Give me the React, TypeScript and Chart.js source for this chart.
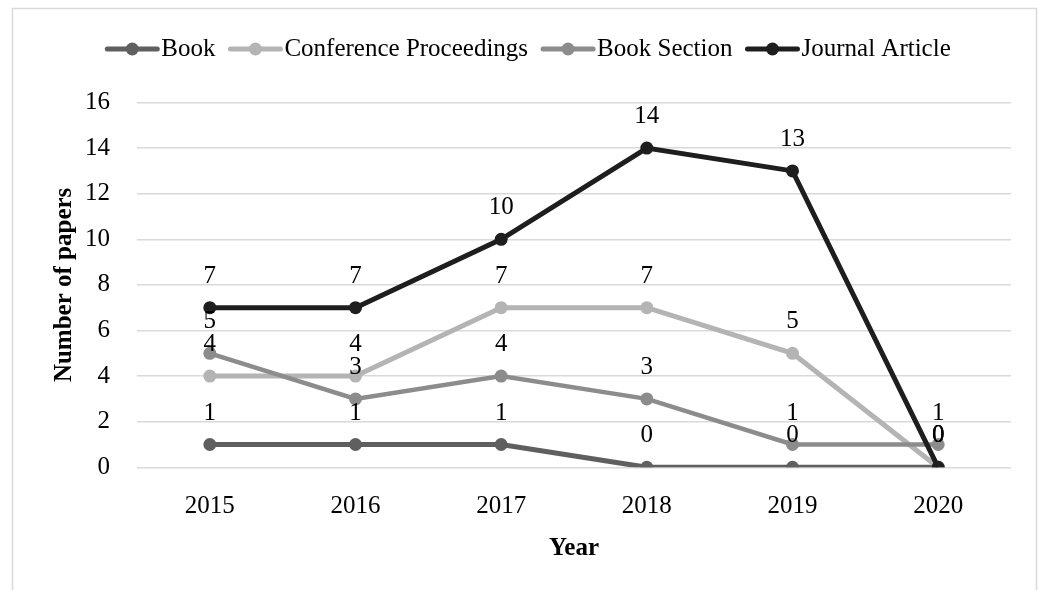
import React, { useEffect, useRef } from "react";
import { Chart, registerables } from "chart.js";

Chart.register(...registerables);

const years = ["2015", "2016", "2017", "2018", "2019", "2020"];
const book = [1, 1, 1, 0, 0, 0];
const conferenceProceedings = [4, 4, 7, 7, 5, 0];
const bookSection = [5, 3, 4, 3, 1, 1];
const journalArticle = [7, 7, 10, 14, 13, 0];
const seriesNames = ["Book", "Conference Proceedings", "Book Section", "Journal Article"];
const seriesValues = [book, conferenceProceedings, bookSection, journalArticle];
const seriesColors = ["#5f5f5f", "#b4b4b4", "#8c8c8c", "#1e1e1e"];
const yMin = 0;
const yMax = 16;
const yStep = 2;
const xTitle = "Year";
const yTitle = "Number of papers";

const FONT = "'Liberation Serif', 'Times New Roman', serif";
const FS = 25;

const decorPlugin = {
  id: "decor",
  beforeDraw(chart: any) {
    const ctx = chart.ctx;
    ctx.save();
    ctx.fillStyle = "#ffffff";
    ctx.fillRect(0, 0, chart.width, chart.height);
    ctx.strokeStyle = "#d9d9d9";
    ctx.lineWidth = 1.5;
    ctx.strokeRect(12.5, 8.5, 1024, 700);
    ctx.restore();
  },
  afterDatasetsDraw(chart: any) {
    const ctx = chart.ctx;
    ctx.save();
    ctx.font = `${FS}px ${FONT}`;
    ctx.fillStyle = "#000000";
    ctx.textAlign = "center";
    ctx.textBaseline = "alphabetic";
    chart.data.datasets.forEach((ds: any, i: number) => {
      const meta = chart.getDatasetMeta(i);
      meta.data.forEach((el: any, j: number) => {
        ctx.fillText(String(ds.data[j]), el.x, el.y - 25);
      });
    });
    ctx.restore();
  },
  afterDraw(chart: any) {
    const ctx = chart.ctx;
    const area = chart.chartArea;
    ctx.save();
    // legend
    ctx.font = `${FS}px ${FONT}`;
    const lineLen = 54;
    const gap = 2;
    const itemGap = 13;
    const widths = seriesNames.map((n) => ctx.measureText(n).width);
    const total = widths.reduce((a, w) => a + lineLen + gap + w, 0) + itemGap * (seriesNames.length - 1);
    let x = 528 - total / 2;
    const ly = 49;
    seriesNames.forEach((name, i) => {
      ctx.strokeStyle = seriesColors[i];
      ctx.lineWidth = 5;
      ctx.lineCap = "round";
      ctx.beginPath();
      ctx.moveTo(x + 2, ly);
      ctx.lineTo(x + lineLen - 2, ly);
      ctx.stroke();
      ctx.fillStyle = seriesColors[i];
      ctx.beginPath();
      ctx.arc(x + lineLen / 2, ly, 6.5, 0, Math.PI * 2);
      ctx.fill();
      ctx.fillStyle = "#000000";
      ctx.textAlign = "left";
      ctx.textBaseline = "alphabetic";
      ctx.fillText(name, x + lineLen + gap, 56);
      x += lineLen + gap + widths[i] + itemGap;
    });
    // axis titles
    ctx.font = `bold ${FS}px ${FONT}`;
    ctx.fillStyle = "#000000";
    ctx.textAlign = "center";
    ctx.fillText(xTitle, (area.left + area.right) / 2, 555);
    ctx.translate(71, (area.top + area.bottom) / 2);
    ctx.rotate(-Math.PI / 2);
    ctx.fillText(yTitle, 0, 0);
    ctx.restore();
  },
};

export default function App() {
  const ref = useRef<HTMLCanvasElement | null>(null);
  useEffect(() => {
    if (!ref.current) return;
    const chart = new Chart(ref.current, {
      type: "line",
      data: {
        labels: years,
        datasets: seriesNames.map((name, i) => ({
          label: name,
          data: seriesValues[i],
          borderColor: seriesColors[i],
          backgroundColor: seriesColors[i],
          pointBackgroundColor: seriesColors[i],
          pointBorderWidth: 0,
          pointRadius: 6.5,
          borderWidth: i === 2 ? 4.5 : 5,
          tension: 0,
          order: seriesNames.length - 1 - i,
        })),
      },
      options: {
        responsive: false,
        devicePixelRatio: 1,
        animation: false,
        layout: { padding: { top: 102.5, right: 32, left: 0, bottom: 0 } },
        plugins: {
          legend: { display: false },
          tooltip: { enabled: false },
        },
        scales: {
          x: {
            type: "category",
            offset: true,
            grid: { display: false },
            border: { display: false },
            ticks: { font: { family: FONT, size: FS }, color: "#000000", padding: 16, maxRotation: 0 },
            afterFit: (s: any) => {
              s.height = 122.7;
            },
          },
          y: {
            min: yMin,
            max: yMax,
            ticks: { stepSize: yStep, font: { family: FONT, size: FS }, color: "#000000", padding: 27 },
            grid: { color: "#d9d9d9", lineWidth: 1.5, drawTicks: false },
            border: { display: false },
            afterFit: (s: any) => {
              s.width = 137;
            },
          },
        },
      },
      plugins: [decorPlugin],
    } as any);
    return () => chart.destroy();
  }, []);
  return (
    <div style={{ position: "fixed", left: 0, top: 0, width: 1043, height: 590, background: "#fff" }}>
      <canvas ref={ref} width={1043} height={590} style={{ display: "block", width: 1043, height: 590 }} />
    </div>
  );
}
